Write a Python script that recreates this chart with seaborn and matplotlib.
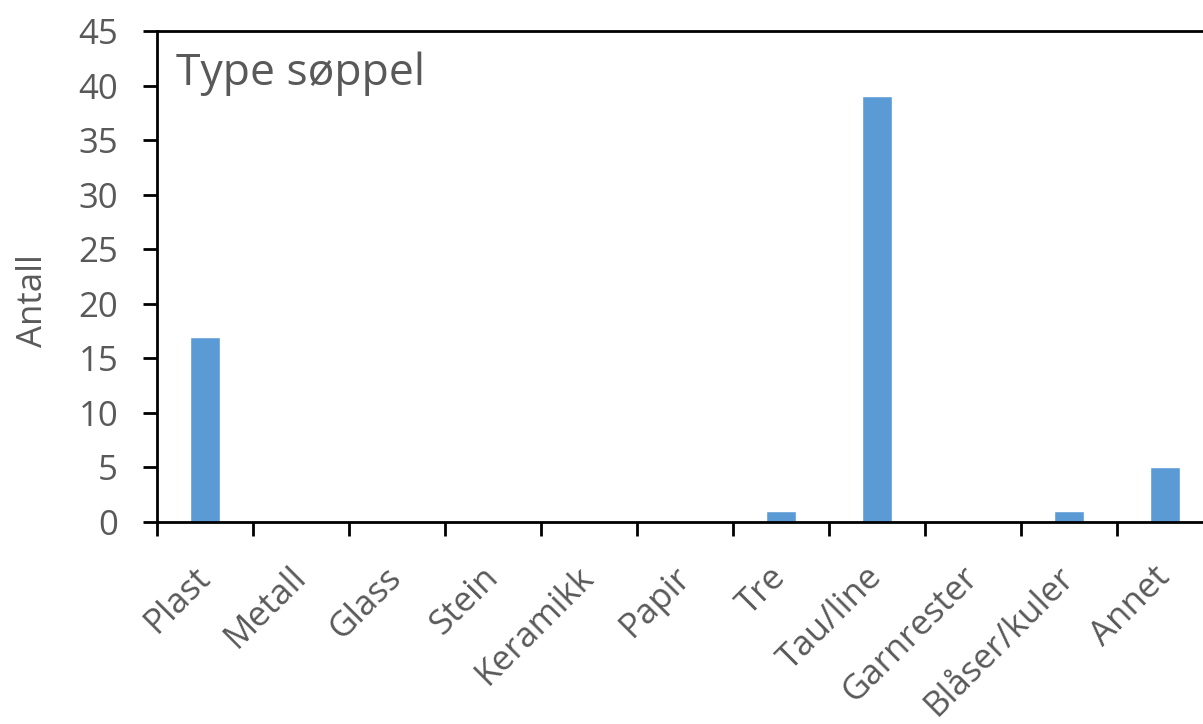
import matplotlib
matplotlib.use("Agg")
import matplotlib.pyplot as plt
import seaborn as sns
import pandas as pd
import numpy as np

categories = ["Plast", "Metall", "Glass", "Stein", "Keramikk", "Papir", "Tre",
              "Tau/line", "Garnrester", "Blåser/kuler", "Annet"]
counts = [17, 0, 0, 0, 0, 0, 1, 39, 0, 1, 5]
y_ticks = [0, 5, 10, 15, 20, 25, 30, 35, 40, 45]

df = pd.DataFrame({"Type": categories, "Antall": counts})

sns.set_style("ticks")
plt.rcParams["font.family"] = ["Open Sans", "DejaVu Sans"]
text_color = "#595959"

W, H = 1203, 724
fig = plt.figure(figsize=(W / 100, H / 100), dpi=100)
ax = fig.add_axes([157 / W, (H - 522) / H, 1056 / W, 491 / H])

sns.barplot(data=df, x="Type", y="Antall", color="#5B9BD5", width=0.32,
            saturation=1, ax=ax, order=categories)

n = len(categories)
ax.set_xlim(-0.5, n - 0.5)
ax.set_ylim(0, 45)
ax.set_yticks(y_ticks)
ax.set_yticklabels([str(v) for v in y_ticks])

# boundary ticks between categories, labels centred under the bars
ax.set_xticks(np.arange(n + 1) - 0.5)
ax.set_xticklabels([])
ax.set_xticks(np.arange(n), minor=True)
ax.set_xticklabels(categories, minor=True, rotation=45, ha="right",
                   va="center", rotation_mode="anchor")
ax.tick_params(axis="x", which="minor", length=0, pad=36,
               labelsize=25, labelcolor=text_color)
ax.tick_params(axis="x", which="major", length=10, width=2, color="black")
ax.tick_params(axis="y", length=10, width=2, color="black",
               labelsize=25, labelcolor=text_color, pad=18)

for side in ["left", "bottom", "top"]:
    ax.spines[side].set_visible(True)
    ax.spines[side].set_linewidth(2)
    ax.spines[side].set_color("black")
ax.spines["right"].set_visible(False)

ax.set_xlabel("")
ax.set_ylabel("Antall", fontsize=25, color=text_color)
ax.yaxis.set_label_coords(-0.101, 0.45)
ax.text(0.018, 0.89, "Type søppel", transform=ax.transAxes, fontsize=32,
        color=text_color, va="baseline", ha="left")

fig.savefig("out.png", dpi=100)
